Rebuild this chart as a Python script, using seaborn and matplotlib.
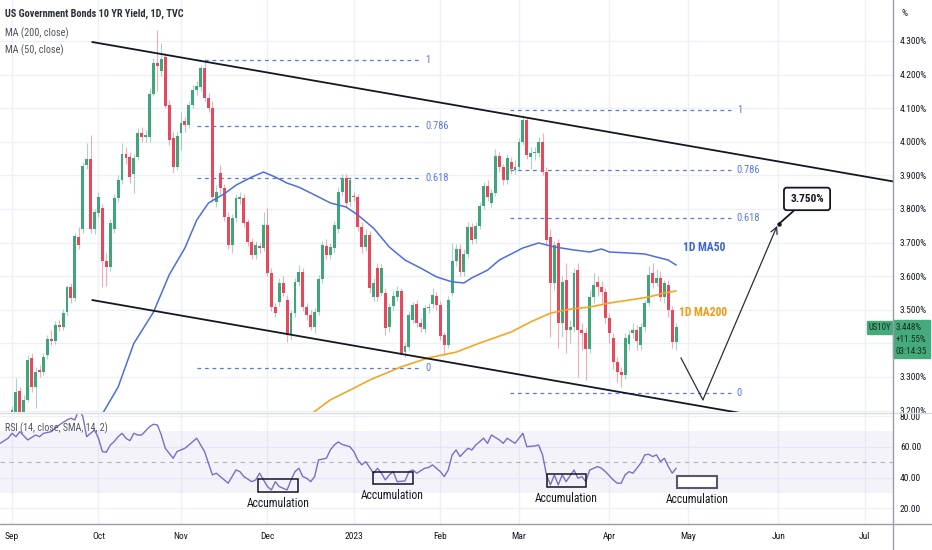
import numpy as np
import pandas as pd
import matplotlib
matplotlib.use("Agg")
import matplotlib.pyplot as plt
import seaborn as sns
from matplotlib import font_manager
from matplotlib.patches import Rectangle
from matplotlib.lines import Line2D

# US10Y daily candles, business days from 1 Sep 2022 to 26 Apr 2023
opens = [3.193, 3.193, 3.258, 3.193, 3.232, 3.357, 3.270, 3.320, 3.315, 3.365,
         3.413, 3.407, 3.455, 3.449, 3.493, 3.568, 3.535, 3.717, 3.740, 3.931,
         3.949, 3.740, 3.788, 3.803, 3.645, 3.627, 3.740, 3.833, 3.886, 3.964,
         3.955, 3.904, 3.955, 4.026, 4.014, 4.014, 4.142, 4.234, 4.211, 4.252,
         4.110, 4.011, 3.925, 4.026, 4.062, 4.050, 4.110, 4.154, 4.163, 4.220,
         4.130, 4.101, 3.821, 3.907, 3.862, 3.776, 3.693, 3.773, 3.830, 3.833,
         3.761, 3.702, 3.663, 3.690, 3.684, 3.752, 3.610, 3.508, 3.523, 3.580,
         3.529, 3.425, 3.490, 3.583, 3.613, 3.508, 3.484, 3.449, 3.493, 3.592,
         3.690, 3.663, 3.684, 3.740, 3.851, 3.892, 3.821, 3.838, 3.836, 3.747,
         3.687, 3.723, 3.538, 3.624, 3.550, 3.550, 3.449, 3.511, 3.538, 3.556,
         3.374, 3.389, 3.470, 3.517, 3.461, 3.443, 3.505, 3.517, 3.541, 3.514,
         3.425, 3.395, 3.550, 3.645, 3.681, 3.612, 3.666, 3.746, 3.711, 3.749,
         3.809, 3.868, 3.818, 3.848, 3.958, 3.925, 3.886, 3.940, 3.916, 3.925,
         3.999, 4.065, 3.955, 3.967, 3.967, 3.999, 3.910, 3.717, 3.580, 3.699,
         3.461, 3.589, 3.440, 3.449, 3.618, 3.440, 3.431, 3.383, 3.538, 3.583,
         3.568, 3.553, 3.476, 3.416, 3.345, 3.315, 3.306, 3.397, 3.431, 3.440,
         3.395, 3.449, 3.520, 3.609, 3.580, 3.595, 3.538, 3.574, 3.499, 3.404]
highs = [3.215, 3.297, 3.270, 3.245, 3.365, 3.372, 3.330, 3.335, 3.372, 3.425,
         3.440, 3.468, 3.470, 3.502, 3.574, 3.580, 3.728, 3.745, 3.940, 3.996,
         4.020, 3.800, 3.850, 3.815, 3.670, 3.770, 3.845, 3.900, 3.996, 3.985,
         3.970, 3.965, 4.040, 4.045, 4.035, 4.160, 4.250, 4.333, 4.294, 4.265,
         4.125, 4.030, 4.030, 4.090, 4.075, 4.120, 4.170, 4.180, 4.230, 4.240,
         4.145, 4.120, 3.870, 3.930, 3.875, 3.790, 3.785, 3.845, 3.850, 3.845,
         3.770, 3.715, 3.705, 3.700, 3.790, 3.803, 3.625, 3.520, 3.595, 3.600,
         3.545, 3.500, 3.595, 3.633, 3.625, 3.520, 3.500, 3.505, 3.605, 3.705,
         3.710, 3.700, 3.765, 3.865, 3.905, 3.905, 3.895, 3.850, 3.845, 3.760,
         3.740, 3.735, 3.595, 3.640, 3.635, 3.565, 3.520, 3.555, 3.570, 3.565,
         3.405, 3.495, 3.523, 3.528, 3.475, 3.515, 3.520, 3.565, 3.552, 3.525,
         3.435, 3.540, 3.699, 3.695, 3.695, 3.680, 3.760, 3.758, 3.760, 3.820,
         3.880, 3.885, 3.860, 3.978, 3.970, 3.935, 3.965, 3.955, 3.945, 4.010,
         4.080, 4.075, 3.985, 3.985, 4.015, 4.026, 3.925, 3.740, 3.705, 3.710,
         3.600, 3.639, 3.470, 3.625, 3.640, 3.460, 3.445, 3.560, 3.610, 3.600,
         3.585, 3.565, 3.490, 3.430, 3.360, 3.330, 3.430, 3.440, 3.460, 3.455,
         3.460, 3.530, 3.630, 3.639, 3.620, 3.615, 3.590, 3.590, 3.510, 3.460]
lows = [3.185, 3.188, 3.188, 3.185, 3.225, 3.255, 3.208, 3.300, 3.305, 3.355,
        3.395, 3.398, 3.438, 3.440, 3.485, 3.520, 3.525, 3.680, 3.730, 3.920,
        3.730, 3.725, 3.775, 3.568, 3.572, 3.615, 3.730, 3.820, 3.875, 3.935,
        3.877, 3.848, 3.945, 4.000, 4.000, 4.000, 4.135, 4.150, 4.195, 4.100,
        3.990, 3.907, 3.915, 3.975, 4.030, 4.040, 4.100, 4.140, 4.150, 4.120,
        4.090, 3.820, 3.805, 3.845, 3.765, 3.680, 3.670, 3.760, 3.815, 3.745,
        3.690, 3.650, 3.650, 3.670, 3.675, 3.600, 3.495, 3.479, 3.510, 3.540,
        3.405, 3.410, 3.480, 3.570, 3.495, 3.470, 3.440, 3.431, 3.485, 3.580,
        3.650, 3.650, 3.670, 3.730, 3.840, 3.805, 3.810, 3.825, 3.735, 3.670,
        3.675, 3.550, 3.525, 3.525, 3.540, 3.425, 3.435, 3.500, 3.525, 3.366,
        3.360, 3.380, 3.460, 3.450, 3.435, 3.430, 3.490, 3.505, 3.500, 3.410,
        3.366, 3.385, 3.540, 3.630, 3.600, 3.600, 3.655, 3.695, 3.700, 3.740,
        3.800, 3.825, 3.805, 3.840, 3.910, 3.870, 3.875, 3.905, 3.905, 3.915,
        3.990, 3.950, 3.920, 3.945, 3.955, 3.900, 3.695, 3.419, 3.560, 3.386,
        3.420, 3.370, 3.400, 3.435, 3.300, 3.380, 3.290, 3.370, 3.520, 3.540,
        3.520, 3.460, 3.400, 3.325, 3.285, 3.270, 3.295, 3.380, 3.415, 3.380,
        3.380, 3.435, 3.510, 3.565, 3.570, 3.525, 3.520, 3.480, 3.386, 3.380]
closes = [3.202, 3.255, 3.193, 3.232, 3.351, 3.270, 3.315, 3.315, 3.360, 3.413,
          3.407, 3.455, 3.449, 3.490, 3.568, 3.535, 3.720, 3.693, 3.928, 3.949,
          3.740, 3.791, 3.836, 3.645, 3.627, 3.758, 3.833, 3.886, 3.964, 3.952,
          3.895, 3.952, 4.026, 4.014, 4.020, 4.142, 4.234, 4.226, 4.246, 4.107,
          4.005, 3.925, 4.017, 4.056, 4.050, 4.110, 4.154, 4.166, 4.220, 4.130,
          4.101, 3.835, 3.851, 3.862, 3.776, 3.693, 3.773, 3.833, 3.836, 3.758,
          3.702, 3.663, 3.693, 3.684, 3.752, 3.610, 3.508, 3.490, 3.580, 3.550,
          3.425, 3.490, 3.583, 3.613, 3.508, 3.484, 3.449, 3.493, 3.592, 3.693,
          3.663, 3.687, 3.752, 3.851, 3.892, 3.818, 3.886, 3.836, 3.747, 3.687,
          3.723, 3.565, 3.580, 3.538, 3.624, 3.446, 3.508, 3.541, 3.556, 3.371,
          3.392, 3.485, 3.514, 3.461, 3.449, 3.505, 3.508, 3.544, 3.514, 3.422,
          3.395, 3.529, 3.645, 3.681, 3.612, 3.666, 3.746, 3.708, 3.749, 3.809,
          3.868, 3.836, 3.848, 3.958, 3.925, 3.886, 3.952, 3.919, 3.925, 3.999,
          4.065, 3.961, 3.967, 3.970, 3.999, 3.910, 3.708, 3.580, 3.693, 3.461,
          3.583, 3.440, 3.449, 3.609, 3.440, 3.431, 3.383, 3.538, 3.574, 3.568,
          3.553, 3.476, 3.431, 3.345, 3.315, 3.306, 3.416, 3.425, 3.440, 3.408,
          3.449, 3.520, 3.604, 3.580, 3.595, 3.538, 3.580, 3.499, 3.404, 3.448]

# moving averages (bar index, yield %)
ma50_bar = [22, 27, 31, 36, 40, 44, 47, 50, 54, 57, 61, 64, 67, 70, 73, 78, 81,
            85, 88, 92, 96, 100, 104, 108, 112, 115, 117, 121, 124, 128, 130,
            134, 138, 143, 147, 150, 152, 157, 161, 164, 167, 169]
ma50_val = [3.170, 3.270, 3.400, 3.493, 3.604, 3.684, 3.767, 3.818, 3.845, 3.871,
            3.895, 3.910, 3.895, 3.877, 3.865, 3.836, 3.818, 3.806, 3.782, 3.743,
            3.687, 3.648, 3.624, 3.598, 3.583, 3.580, 3.595, 3.618, 3.648, 3.672,
            3.684, 3.699, 3.687, 3.678, 3.672, 3.681, 3.672, 3.669, 3.666, 3.657,
            3.648, 3.633]
ma200_bar = [75, 81, 86, 91, 99, 106, 113, 119, 127, 132, 137, 142, 147, 152,
             157, 162, 166, 169]
ma200_val = [3.180, 3.232, 3.261, 3.291, 3.330, 3.357, 3.374, 3.401, 3.434, 3.464,
             3.490, 3.502, 3.508, 3.520, 3.529, 3.538, 3.550, 3.556]

# RSI(14)
rsi_bar = [-3, -1, 0, 1, 2, 4, 6, 7, 8, 10, 11, 12, 14, 15, 16, 17, 18, 19, 21, 22,
           23, 24, 25, 26, 27, 28, 29, 30, 31, 32, 33, 35, 36, 37, 38, 39, 41, 42, 43, 44,
           45, 46, 47, 48, 49, 50, 51, 52, 53, 55, 56, 57, 58, 59, 61, 62, 63, 64, 65, 66,
           67, 68, 70, 71, 72, 73, 74, 75, 76, 77, 78, 80, 81, 82, 83, 84, 86, 87, 88, 89,
           90, 92, 93, 94, 95, 96, 97, 98, 100, 101, 102, 103, 105, 106, 107, 109, 110, 111, 112, 113,
           114, 116, 117, 118, 119, 120, 121, 122, 124, 125, 126, 128, 129, 130, 131, 133, 134, 135, 136, 137,
           138, 139, 140, 141, 143, 144, 145, 146, 147, 149, 150, 151, 153, 154, 155, 156, 157, 158, 160, 161,
           162, 163, 164, 165, 166, 167, 168, 169]
rsi_val = [62.3, 65.6, 68.8, 66.6, 69.9, 64.5, 67.7, 66.6, 68.8, 69.9,
           72.1, 74.2, 77.5, 78.6, 77.5, 84.0, 80.0, 66.6, 71.0, 65.6,
           56.9, 56.5, 61.2, 63.4, 66.6, 68.8, 65.6, 64.0, 68.8, 67.7,
           67.7, 73.1, 74.7, 74.2, 67.7, 59.1, 52.6, 57.0, 58.0, 59.1,
           61.2, 63.4, 65.6, 61.2, 56.9, 49.4, 41.8, 42.9, 40.7, 36.4,
           40.7, 45.0, 43.9, 40.7, 37.4, 38.5, 42.9, 38.5, 34.2, 32.0,
           37.4, 34.2, 32.0, 38.5, 43.9, 46.1, 40.7, 39.6, 37.4, 40.7,
           51.5, 52.6, 58.0, 61.2, 63.2, 61.6, 60.1, 56.9, 51.5, 48.3,
           50.4, 42.9, 46.1, 42.9, 38.5, 41.8, 43.9, 37.4, 37.9, 43.9,
           45.0, 42.9, 46.1, 46.6, 48.3, 43.9, 40.7, 45.0, 54.8, 58.0,
           53.7, 59.1, 58.0, 61.2, 63.4, 65.6, 62.3, 67.7, 64.5, 62.3,
           65.6, 62.3, 65.6, 68.8, 60.1, 60.6, 61.2, 54.8, 41.8, 35.3,
           41.8, 35.3, 41.8, 37.4, 45.0, 39.6, 40.7, 37.4, 45.0, 47.2,
           46.1, 43.9, 38.5, 36.4, 36.4, 41.8, 43.9, 42.9, 49.4, 54.8,
           55.2, 53.7, 54.8, 50.4, 52.6, 47.2, 42.9, 46.1]

# drawings
fib_levels = [1, 0.786, 0.618, 0]
fib_left = (3.327, 4.243)      # (0, 1) prices
fib_right = (3.253, 4.095)
channel_upper = ([20.4, 224.2], [4.297, 3.882])
channel_lower = ([20.4, 185.2], [3.529, 3.193])
path_bar = [170.2, 175.8]
path_val = [3.357, 3.232]
target_bar, target_val = 194.7, 3.750
accum_boxes = [(62.6, 72.8, 30.7, 39.2), (91.9, 102.0, 35.9, 43.7),
               (136.1, 146.1, 34.0, 42.4), (169.2, 179.4, 33.3, 41.1)]
accum_text = [(67.7, 22.9), (96.7, 28.1), (141.0, 26.2), (174.3, 25.5)]
price_ticks = [3.2, 3.3, 3.4, 3.5, 3.6, 3.7, 3.8, 3.9, 4.0, 4.1, 4.2, 4.3]
rsi_ticks = [20, 40, 60, 80]
last_price, last_chg, countdown = "3.448%", "+11.55%", "03:14:35"

# ---- fonts: a narrow face, like the chart's own, if there is one
sns.set_theme(style="white")
have = {f.name for f in font_manager.fontManager.ttflist}
narrow = next((n for n in ["Roboto Condensed", "PT Sans Narrow", "Liberation Sans Narrow",
                           "Open Sans Condensed"] if n in have), None)
plt.rcParams["font.family"] = [narrow, "Liberation Sans", "DejaVu Sans"] if narrow else \
    ["Liberation Sans", "DejaVu Sans"]
k = 1.0 if narrow else 0.82   # shrink text a little if only wide faces exist

W, H = 932, 550
PX_BAR, X0 = 3.93, 12.0
fig = plt.figure(figsize=(W / 100, H / 100), dpi=100)

def fx(px):
    return px / W

def fy(py):
    return 1 - py / H

ax_p = fig.add_axes([0, fy(412), fx(893), 412 / H])
ax_r = fig.add_axes([0, fy(524), fx(893), 111 / H])
xlim = ((0 - X0) / PX_BAR, (893 - X0) / PX_BAR)

days = pd.bdate_range("2022-09-01", "2023-07-31")
is_first = np.r_[True, days.month[1:] != days.month[:-1]]
month_bars = np.where(is_first)[0]
month_lbls = ["2023" if d.month == 1 else d.strftime("%b") for d in days[is_first]]

grid_c = "#eef0f5"
text_c = "#131722"
up_c, dn_c = "#3fa57a", "#e8485b"

# ---- price pane
ax = ax_p
ax.set_xlim(*xlim)
ax.set_ylim(4.422 - 412 / 336, 4.422)
ax.set_xticks(month_bars)
ax.set_xticklabels([])
ax.set_yticks(price_ticks)
ax.set_yticklabels([f"{v:.3f}%" for v in price_ticks])
ax.yaxis.tick_right()
ax.tick_params(axis="both", length=0)
ax.tick_params(axis="y", pad=5, labelsize=6.8 * k, labelcolor=text_c)
ax.grid(True, color=grid_c, lw=1)
ax.set_axisbelow(True)
for s in ax.spines.values():
    s.set_visible(False)

O, Hh, L, C = map(np.array, (opens, highs, lows, closes))
xb = np.arange(len(C))
cols = np.where(C >= O, up_c, dn_c)
ax.vlines(xb, L, Hh, colors=cols, lw=0.8, alpha=0.45, zorder=2)
ax.bar(xb, np.maximum(np.abs(C - O), 0.004), bottom=np.minimum(O, C),
       width=0.74, color=cols, lw=0, zorder=3)

sns.lineplot(x=ma50_bar, y=ma50_val, ax=ax, color="#4c6ee0", lw=1.1, zorder=4)
sns.lineplot(x=ma200_bar, y=ma200_val, ax=ax, color="#f5a623", lw=1.2, zorder=4)

fib_c = "#5a78e6"
for (lo, hi), (b0, b1), lx in [(fib_left, (47, 103.8), 105.1), (fib_right, (126.7, 183.0), 184.4)]:
    for lv in fib_levels:
        yv = lo + lv * (hi - lo)
        ax.hlines(yv, b0, b1, colors=fib_c, lw=0.9, linestyles=(0, (3, 3)), zorder=2)
        ax.text(lx, yv, f"{lv:g}", color=fib_c, fontsize=7.6 * k, va="center", ha="left")

ax.plot(*channel_upper, color=text_c, lw=1.3, zorder=5)
ax.plot(*channel_lower, color=text_c, lw=1.3, zorder=5)
ax.plot(path_bar, path_val, color="#2a2e39", lw=0.9, zorder=5)
ax.annotate("", xy=(target_bar, target_val), xytext=(path_bar[-1], path_val[-1]),
            arrowprops=dict(arrowstyle="->", color="#2a2e39", lw=0.9,
                            shrinkA=0, shrinkB=0), zorder=5)
ax.annotate("3.750%", xy=(target_bar + 0.4, target_val + 0.005), xytext=(202.3, 3.830),
            ha="center", va="center", fontsize=8.2 * k, fontweight="bold", color=text_c,
            bbox=dict(boxstyle="round,pad=0.55,rounding_size=0.25", fc="white", ec=text_c, lw=1.3),
            arrowprops=dict(arrowstyle="-", color=text_c, lw=1.3, shrinkA=0, shrinkB=0),
            zorder=6)
ax.plot([target_bar + 0.4], [target_val + 0.005], "o", ms=2.2, color=text_c, zorder=6)

ax.text(170.7, 3.684, "1D MA50", color="#3d63dd", fontsize=8.4 * k, fontweight="bold",
        va="center", ha="left")
ax.text(169.7, 3.493, "1D MA200", color="#f39c12", fontsize=8.4 * k, fontweight="bold",
        va="center", ha="left")

# ---- RSI pane
ax = ax_r
ax.set_xlim(*xlim)
ax.set_ylim(9.9, 82)
ax.axhspan(30, 70, color="#7e57c2", alpha=0.07, lw=0)
ax.axhline(50, color="#b2b5be", lw=0.8, ls=(0, (4, 4)))
ax.set_yticks(rsi_ticks)
ax.set_yticklabels([f"{v:.2f}" for v in rsi_ticks])
ax.yaxis.tick_right()
ax.set_xticks(month_bars)
ax.set_xticklabels(month_lbls)
ax.tick_params(axis="both", length=0, labelsize=6.8 * k, labelcolor=text_c)
ax.tick_params(axis="y", pad=5)
ax.tick_params(axis="x", pad=6)
ax.grid(True, color=grid_c, lw=1)
ax.set_axisbelow(True)
for s in ax.spines.values():
    s.set_visible(False)
sns.lineplot(x=rsi_bar, y=rsi_val, ax=ax, color="#7e6cc4", lw=1.0, zorder=3)

for i, (b0, b1, r0, r1) in enumerate(accum_boxes):
    last = i == len(accum_boxes) - 1
    ax.add_patch(Rectangle((b0, r0), b1 - b0, r1 - r0, fill=last, fc="white",
                           ec="#555a66" if last else text_c, lw=1.5 if last else 1.1, zorder=4))
for bx, ry in accum_text:
    ax.text(bx, ry, "Accumulation", ha="center", va="center", fontsize=8.3 * k, color=text_c)

# ---- frame, header and price tags
for art in [Line2D([0, 1], [fy(412.5)] * 2, color="#d9dce3", lw=1),
            Line2D([0, 1], [fy(524)] * 2, color="#9a9ea8", lw=1),
            Line2D([fx(893)] * 2, [fy(550), 1], color="#9a9ea8", lw=1)]:
    fig.add_artist(art)

fig.text(fx(5), fy(14), "US Government Bonds 10 YR Yield, 1D, TVC", fontsize=7.4 * k,
         fontweight="bold", color="#2a2e39", va="center")
fig.text(fx(5), fy(33), "MA (200, close)", fontsize=7.4 * k, color="#50535e", va="center")
fig.text(fx(5), fy(50), "MA (50, close)", fontsize=7.4 * k, color="#50535e", va="center")
fig.text(fx(5), fy(428), "RSI (14, close, SMA, 14, 2)", fontsize=7.2 * k, color="#50535e", va="center")
fig.text(fx(901), fy(14), "%", fontsize=6.8 * k, color=text_c, va="center")

tag_c = "#45ab7c"
fig.patches.append(Rectangle((fx(893), fy(358)), fx(37), 38 / H, color=tag_c,
                             transform=fig.transFigure, figure=fig))
fig.patches.append(Rectangle((fx(867), fy(334)), fx(25), 13 / H, color=tag_c,
                             transform=fig.transFigure, figure=fig))
fig.text(fx(879.5), fy(327.5), "US10Y", fontsize=6.3 * k, color="#10311f", ha="center", va="center")
for yy, s in [(328, last_price), (340, last_chg), (352, countdown)]:
    fig.text(fx(896), fy(yy), s, fontsize=6.6 * k, color="#10311f", ha="left", va="center")

fig.savefig("out.png", dpi=100)
